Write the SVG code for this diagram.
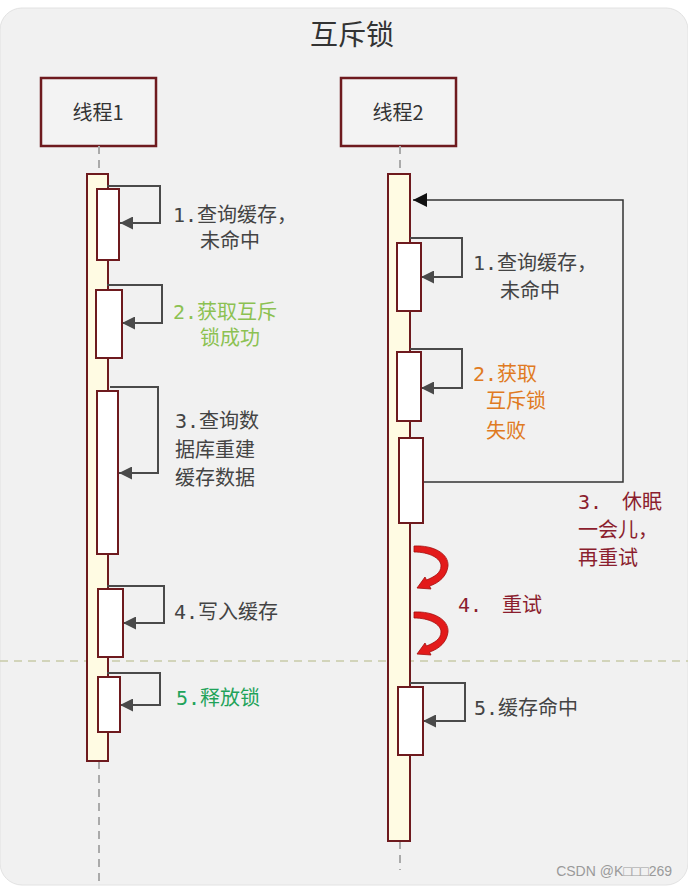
<svg xmlns="http://www.w3.org/2000/svg" width="688" height="886" viewBox="0 0 688 886">
<defs>
<style>
.t{font-family:"DejaVu Sans Mono","Noto Sans CJK SC",monospace;font-size:20px;fill:#444}
.hd{font-family:"Noto Sans CJK SC","Noto Sans",sans-serif;fill:#333}
.box{fill:#f3f3f3;stroke:#6e1a1e;stroke-width:2.5}
.bar{fill:#fffbe3;stroke:#6e1a1e;stroke-width:2}
.act{fill:#ffffff;stroke:#6e1a1e;stroke-width:2}
.life{stroke:#aaa;stroke-width:2;stroke-dasharray:8 6;fill:none}
.self{fill:none;stroke:#4a4a4a;stroke-width:2}
.loop{fill:none;stroke:#333;stroke-width:1.5}
.green{fill:#8cc152}
.dgreen{fill:#1fa35a}
.orange{fill:#e07a22}
.red{fill:#8b1e2e}
.curl{fill:#e31b1b;stroke:#a30c0c;stroke-width:0.8}
</style>
<marker id="ah" viewBox="0 0 10 10" refX="10" refY="5" markerUnits="userSpaceOnUse" markerWidth="13" markerHeight="13" orient="auto">
<path d="M0,0 L10,5 L0,10 z" fill="#4a4a4a"/>
</marker>
<marker id="ahb" viewBox="0 0 10 10" refX="10" refY="5" markerUnits="userSpaceOnUse" markerWidth="14" markerHeight="14" orient="auto">
<path d="M0,0 L10,5 L0,10 z" fill="#111"/>
</marker>
<path id="curl" class="curl" d="M0,0 C20,-1 35,8 34,20 C33,30 25,37 15.5,40 L17,43 L3,42 L11,31 L12.5,34 C20,31 27,27 27,20 C27,12 15,6 0,6 Z"/>
</defs>
<rect x="0" y="0" width="688" height="886" fill="#ffffff"/>
<rect x="0" y="8" width="688" height="877" rx="22" fill="#f1f1f1" stroke="#e2e2e2" stroke-width="1"/>
<text x="352" y="45" class="hd" font-size="28" text-anchor="middle">互斥锁</text>

<line x1="0" y1="661" x2="688" y2="661" stroke="#c8caa8" stroke-width="1.5" stroke-dasharray="8 6"/>

<g id="thread1">
<rect x="41" y="78" width="115" height="68" class="box"/>
<text x="98" y="120" class="hd" font-size="20" text-anchor="middle">线程1</text>
<line x1="99" y1="146" x2="99" y2="174" class="life"/>
<line x1="99" y1="761" x2="99" y2="884" class="life"/>
<rect x="87" y="174" width="21" height="587" class="bar"/>
</g>
<g id="thread2">
<rect x="341" y="78" width="115" height="68" class="box"/>
<text x="398" y="120" class="hd" font-size="20" text-anchor="middle">线程2</text>
<line x1="400" y1="146" x2="400" y2="174" class="life"/>
<line x1="400" y1="841" x2="400" y2="870" class="life"/>
<rect x="388" y="174" width="22" height="667" class="bar"/>
</g>

<g id="connectors">
<path d="M107,186 H160 V223 H120" class="self" marker-end="url(#ah)"/>
<path d="M107,285 H162 V323 H122" class="self" marker-end="url(#ah)"/>
<path d="M110,387 H158 V473 H119" class="self" marker-end="url(#ah)"/>
<path d="M107,586 H164 V623 H123" class="self" marker-end="url(#ah)"/>
<path d="M107,673 H160 V705 H120" class="self" marker-end="url(#ah)"/>
<path d="M410,238 H462 V277 H421" class="self" marker-end="url(#ah)"/>
<path d="M410,349 H462 V388 H421" class="self" marker-end="url(#ah)"/>
<path d="M423,482 H623 V200 H413" class="loop" marker-end="url(#ahb)"/>
<path d="M410,683 H465 V721 H423" class="self" marker-end="url(#ah)"/>
<use href="#curl" x="414" y="546"/>
<use href="#curl" x="414" y="612"/>
</g>

<g id="t1-act1"><rect x="97" y="189" width="22" height="71" class="act"/>
<text class="t"><tspan x="173" y="222">1.查询缓存，</tspan><tspan x="200" y="248">未命中</tspan></text></g>
<g id="t1-act2"><rect x="96" y="290" width="26" height="68" class="act"/>
<text class="t green"><tspan x="173" y="319">2.获取互斥</tspan><tspan x="200" y="345">锁成功</tspan></text></g>
<g id="t1-act3"><rect x="97" y="391" width="21" height="163" class="act"/>
<text class="t"><tspan x="175" y="428">3.查询数</tspan><tspan x="175" y="457">据库重建</tspan><tspan x="175" y="485">缓存数据</tspan></text></g>
<g id="t1-act4"><rect x="98" y="589" width="25" height="68" class="act"/>
<text x="174" y="619" class="t">4.写入缓存</text></g>
<g id="t1-act5"><rect x="98" y="677" width="22" height="55" class="act"/>
<text x="176" y="705" class="t dgreen">5.释放锁</text></g>

<g id="t2-act1"><rect x="397" y="243" width="24" height="68" class="act"/>
<text class="t"><tspan x="473" y="270">1.查询缓存，</tspan><tspan x="500" y="298">未命中</tspan></text></g>
<g id="t2-act2"><rect x="397" y="352" width="24" height="69" class="act"/>
<text class="t orange"><tspan x="473" y="381">2.获取</tspan><tspan x="486" y="408">互斥锁</tspan><tspan x="486" y="438">失败</tspan></text></g>
<g id="t2-act3"><rect x="399" y="438" width="24" height="85" class="act"/>
<text class="t red"><tspan x="578" y="509">3.　休眠</tspan><tspan x="578" y="537">一会儿，</tspan><tspan x="578" y="565">再重试</tspan></text></g>
<g id="t2-retry"><text x="458" y="612" class="t red">4.　重试</text></g>
<g id="t2-act5"><rect x="398" y="687" width="25" height="68" class="act"/>
<text x="474" y="715" class="t">5.缓存命中</text></g>

<text x="672" y="876" text-anchor="end" font-family="Liberation Sans, sans-serif" font-size="14" fill="#9a9a9a">CSDN @K□□□269</text>
</svg>
